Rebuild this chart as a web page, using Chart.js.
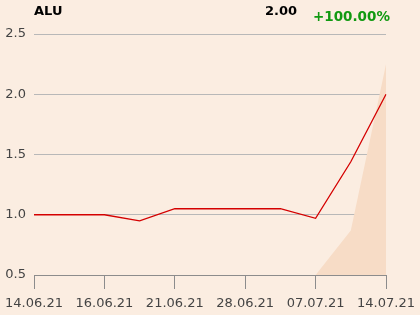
<!DOCTYPE html>
<html>
<head>
<meta charset="utf-8">
<script src="https://cdn.jsdelivr.net/npm/chart.js@4/dist/chart.umd.min.js"></script>
<style>
  html, body { margin: 0; padding: 0; background: #fbede1; }
  #wrap { position: relative; width: 420px; height: 315px; }
  canvas { display: block; }
  .hdr { position: absolute; font-family: "DejaVu Sans", sans-serif; font-weight: bold; font-size: 13px; line-height: 13px; white-space: nowrap; }
</style>
</head>
<body>
<div id="wrap">
  <canvas id="chart" width="420" height="315"></canvas>
  <div class="hdr" id="name" style="left:34px; top:4px; color:#000;"></div>
  <div class="hdr" id="last" style="right:123px; top:4px; color:#000;"></div>
  <div class="hdr" id="change" style="left:313px; top:10px; color:#119911; font-size:13.5px;"></div>
</div>
<script>
// header texts
const stockName = 'ALU';
const lastValue = '2.00';
const changeText = '+100.00%';

// x categories, blanks are points without a printed label
const dates = ['14.06.21', '', '16.06.21', '', '21.06.21', '', '28.06.21', '', '07.07.21', '', '14.07.21'];
// price line
const prices = [1.0, 1.0, 1.0, 0.95, 1.05, 1.05, 1.05, 1.05, 0.97, 1.44, 2.0];
// shaded area behind the line
const shade = [0.5, 0.5, 0.5, 0.5, 0.5, 0.5, 0.5, 0.5, 0.5, 0.87, 2.25];
// y axis range
const yMin = 0.5, yMax = 2.5, yStep = 0.5;

document.getElementById('name').textContent = stockName;
document.getElementById('last').textContent = lastValue;
document.getElementById('change').textContent = changeText;

const ctx = document.getElementById('chart').getContext('2d');
new Chart(ctx, {
    type: 'line',
    data: {
        labels: dates,
        datasets: [{
            data: shade,
            fill: 'start',
            backgroundColor: '#f7dcc6',
            borderWidth: 0,
            pointRadius: 0,
            order: 2
        }, {
            data: prices,
            fill: false,
            borderColor: '#d40000',
            borderWidth: 1.3,
            pointRadius: 0,
            tension: 0,
            order: 1
        }]
    },
    options: {
        responsive: false,
        animation: false,
        layout: { padding: { top: 34, right: 34, left: 0, bottom: 0 } },
        plugins: { legend: { display: false }, tooltip: { enabled: false } },
        scales: {
            x: {
                offset: false,
                afterFit: s => { s.height = 40; },
                border: { display: true, color: '#8c8c8c', width: 1 },
                grid: { drawOnChartArea: false, drawTicks: true, tickLength: 14, color: '#8c8c8c' },
                ticks: {
                    autoSkip: false,
                    maxRotation: 0,
                    padding: 0, // keeps side padding at half a label; the gap comes from lineHeight
                    color: '#444',
                    font: { family: 'DejaVu Sans', size: 13, lineHeight: 2.28 },
                    callback: function (v, i) { return dates[i] ? dates[i] : null; }
                }
            },
            y: {
                min: yMin,
                max: yMax,
                afterFit: s => { s.width = 34; },
                border: { display: false },
                grid: { drawTicks: false, color: '#b8b8b8' },
                ticks: {
                    stepSize: yStep,
                    padding: 8,
                    color: '#444',
                    font: { family: 'DejaVu Sans', size: 13 },
                    callback: v => v.toFixed(1)
                }
            }
        }
    }
});
</script>
</body>
</html>
